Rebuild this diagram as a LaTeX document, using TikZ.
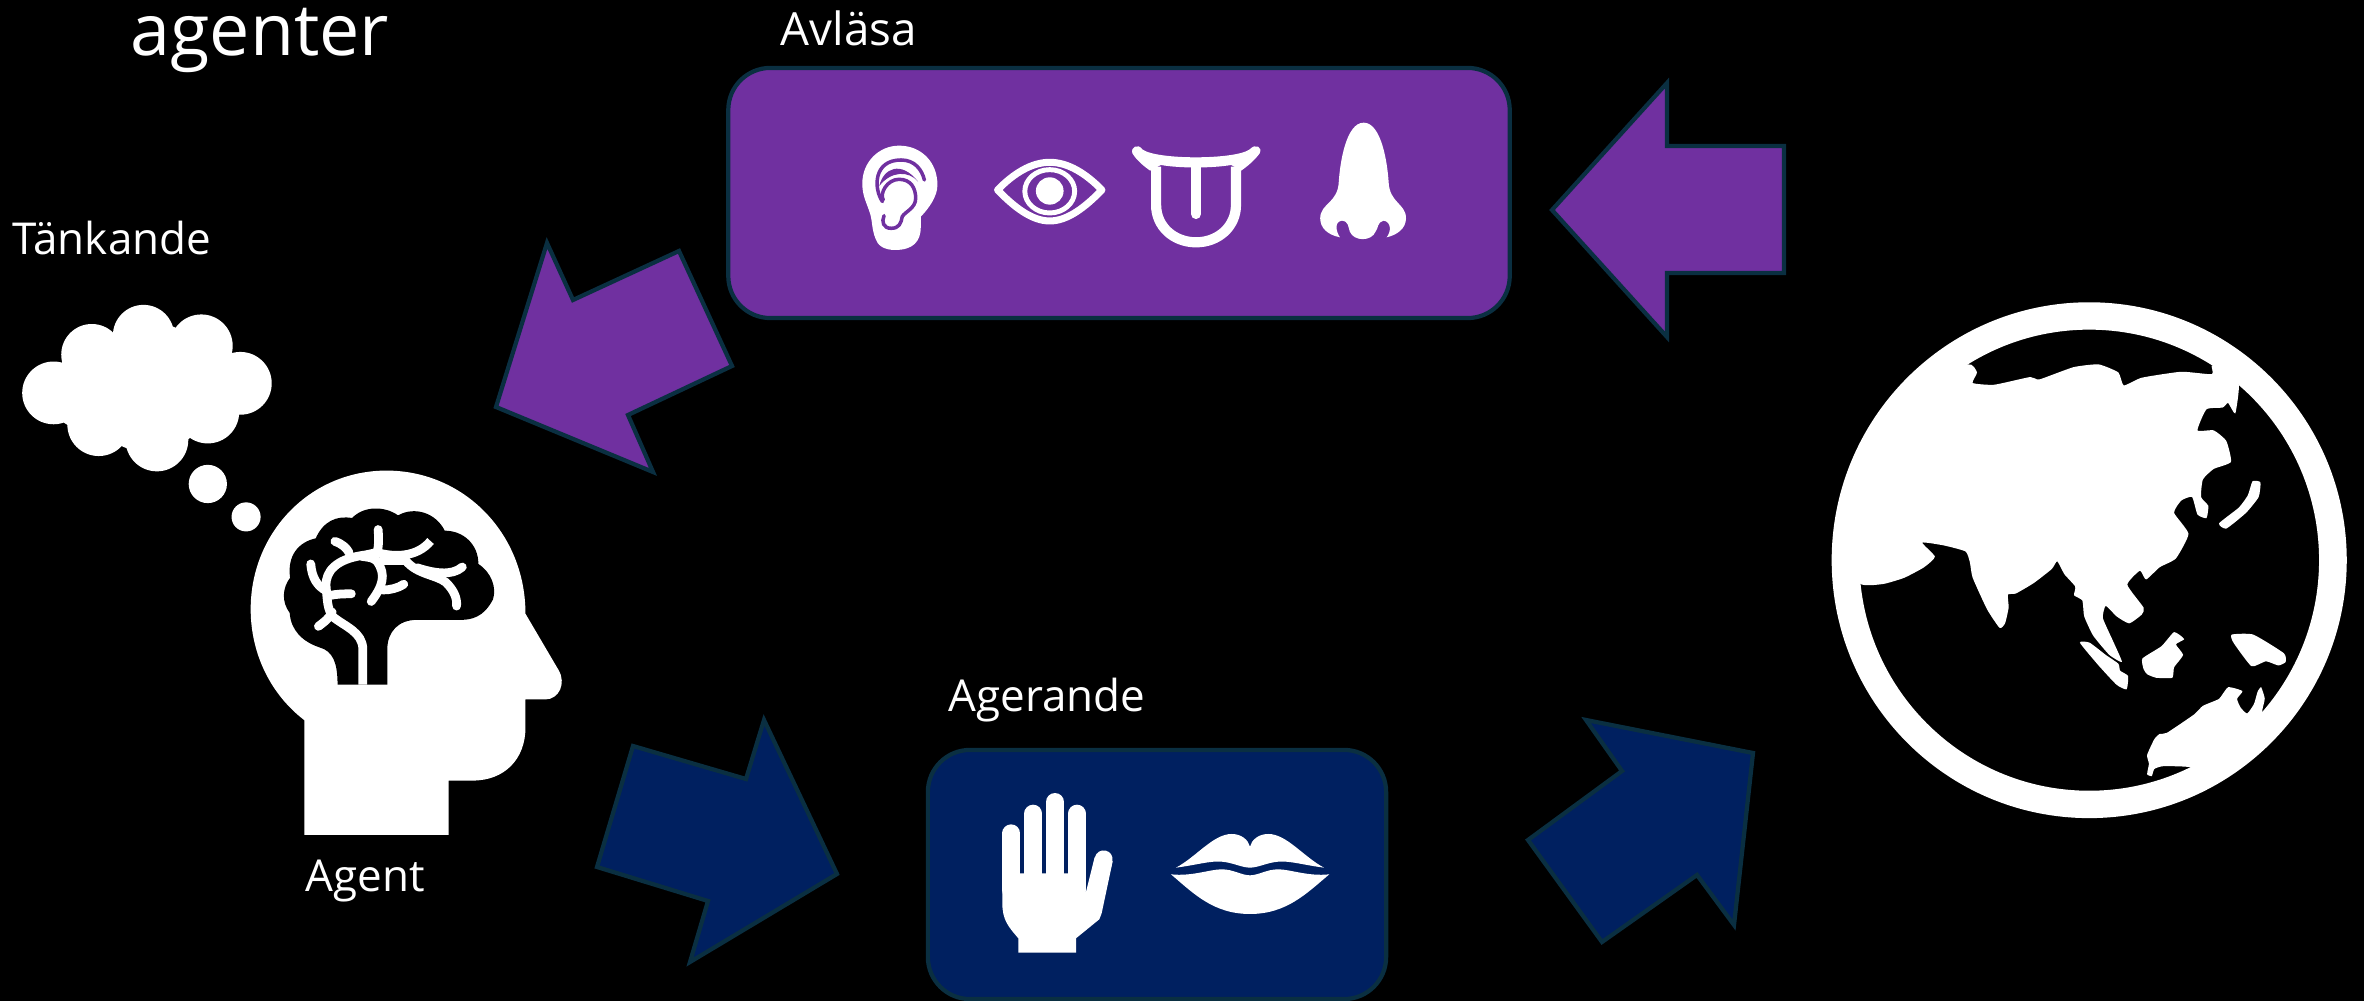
\documentclass[tikz,border=0pt]{standalone}
\usepackage{fontspec}
\setmainfont{Open Sans}
\usepackage{tikz}
\usetikzlibrary{positioning}
\definecolor{avlasa}{HTML}{7030A0}
\definecolor{agera}{HTML}{002060}
\definecolor{kant}{HTML}{0A2F41}
\tikzset{
  box_a/.style = {rectangle, rounded corners=0.42cm, draw=kant, fill=avlasa,
    line width=1.2pt, minimum width=7.81cm, minimum height=2.5cm},% avlasa
  box_g/.style = {rectangle, rounded corners=0.42cm, draw=kant, fill=agera,
    line width=1.2pt, minimum width=4.58cm, minimum height=2.49cm},% agerande
  pil_a/.style = {draw=kant, fill=avlasa, line width=1.2pt},
  pil_g/.style = {draw=kant, fill=agera, line width=1.2pt},
  lbl/.style = {anchor=base west, inner sep=0pt, text=white,
    font=\fontsize{12.5}{15}\selectfont},
  vit/.style = {fill=white},
  ven/.style = {draw=white, line width=2.5pt, line cap=round, line join=round},
}
\begin{document}
\begin{tikzpicture}[x=0.01cm,y=-0.01cm]
    \useasboundingbox (0,0) rectangle (2364,1001);
    \fill[black] (0,0) rectangle (2364,1001);
    % boxes
    \node [box_a] (avl) at (1119,193) {};
    \node [box_g] (age) at (1157,874.5) {};
    % labels
    \node [lbl, font=\fontsize{20.4}{25}\selectfont] (titel) at (130,56) {agenter};
    \node [lbl] (tlbl) at (12,255) {Tänkande};
    \node [lbl, font=\fontsize{13}{15}\selectfont] (albl) at (780,46) {Avläsa};
    \node [lbl] (glbl) at (948,712) {Agerande};
    \node [lbl] (plbl) at (305,892) {Agent};
    % arrows
    \draw [pil_a] (1552,210) -- (1667,83) -- (1667,146) -- (1784,146) -- (1784,273)
        -- (1667,273) -- (1667,337) -- cycle;
    \draw [pil_a] (496,407) -- (547,243) -- (573,300) -- (679,251) -- (732,366)
        -- (628,415) -- (653,472) -- cycle;
    \draw [pil_g] (837,874) -- (690,962) -- (708,901) -- (597,867) -- (633,746)
        -- (746,779) -- (764,720) -- cycle;
    \draw [pil_g] (1753,753) -- (1734,925) -- (1697,875) -- (1602,942) -- (1528,840)
        -- (1622,771) -- (1586,720) -- cycle;
    % cloud and head
    \begin{scope}[shift={(0,280)},scale=0.3827]
        \fill [vit] (140,295) circle (82) (240,195) circle (80) (375,145) circle (80)
            (526,172) circle (82) (628,270) circle (82) (543,345) circle (82)
            (410,418) circle (82) (258,378) circle (82) (390,280) circle (170)
            (220,300) circle (90);
        \fill [vit] (543,533) circle (50) (643,619) circle (38);
        \fill [vit] (795,1450) -- (1172,1450) -- (1172,1308) -- (1235,1308)
            .. controls (1320,1308) and (1373,1250) .. (1373,1170) -- (1373,1096) -- (1425,1096)
            .. controls (1460,1096) and (1480,1055) .. (1460,1020) -- (1373,872)
            .. controls (1373,660) and (1210,498) .. (1010,498)
            .. controls (810,498) and (655,660) .. (655,860)
            .. controls (655,980) and (710,1085) .. (795,1150) -- cycle;
        \fill [black] (882,1057) .. controls (882,1000) and (870,970) .. (835,960)
            .. controls (790,945) and (760,915) .. (757,870)
            .. controls (735,840) and (738,805) .. (758,778)
            .. controls (750,720) and (780,685) .. (825,675)
            .. controls (845,630) and (880,615) .. (920,622)
            .. controls (950,590) and (1005,590) .. (1040,615)
            .. controls (1085,590) and (1140,610) .. (1162,655)
            .. controls (1210,655) and (1250,690) .. (1250,742)
            .. controls (1285,765) and (1298,805) .. (1288,835)
            .. controls (1272,865) and (1250,888) .. (1205,888) -- (1090,888)
            .. controls (1040,888) and (1012,920) .. (1012,965) -- (1012,1057) -- cycle;
        \draw [ven, line cap=butt] (948,1057) -- (948,965)
            .. controls (948,920) and (900,905) .. (870,880)
            .. controls (855,860) and (855,835) .. (852,800)
            .. controls (850,760) and (880,730) .. (945,720)
            .. controls (960,718) and (970,715) .. (985,712)
            .. controls (1030,725) and (1090,725) .. (1125,682);
        \draw [ven] (985,712) .. controls (990,695) and (990,680) .. (988,652);
        \draw [ven] (875,683) .. controls (895,690) and (905,700) .. (912,712);
        \draw [ven] (812,742) .. controls (815,780) and (830,800) .. (852,812);
        \draw [ven] (860,825) .. controls (880,820) and (900,820) .. (918,820);
        \draw [ven] (832,905) .. controls (845,895) and (860,885) .. (868,868);
        \draw [ven] (945,722) .. controls (965,725) and (975,725) .. (985,735)
            .. controls (1010,770) and (1000,800) .. (970,840);
        \draw [ven] (1000,810) .. controls (1020,810) and (1040,805) .. (1055,795);
        \draw [ven] (1000,733) -- (1060,733)
            .. controls (1090,770) and (1140,770) .. (1165,790)
            .. controls (1185,810) and (1195,830) .. (1193,852);
        \draw [ven] (1090,752) .. controls (1130,765) and (1180,775) .. (1208,750);
    \end{scope}
    % ear, eye, tongue, nose
    \begin{scope}[shift={(820,100)},xscale=0.3954,yscale=0.3333]
        \fill [vit] (125,335) .. controls (115,300) and (107,285) .. (107,250)
            .. controls (107,185) and (150,137) .. (200,137)
            .. controls (255,137) and (297,185) .. (297,255)
            .. controls (297,290) and (275,325) .. (255,350) -- (255,380)
            .. controls (255,425) and (235,450) .. (190,450)
            .. controls (160,450) and (145,435) .. (140,415)
            .. controls (130,385) and (133,360) .. (125,335) -- cycle;
        \draw [draw=avlasa, line width=1pt, line cap=round]
            (158,305) .. controls (135,265) and (135,180) .. (205,180)
            .. controls (240,180) and (258,210) .. (264,240);
        \fill [avlasa] (150,258) .. controls (160,205) and (205,180) .. (248,245)
            .. controls (225,212) and (180,212) .. (150,258);
        \draw [draw=avlasa, line width=1pt, line cap=round]
            (160,300) .. controls (150,280) and (170,238) .. (200,238)
            .. controls (230,238) and (242,265) .. (242,295)
            .. controls (242,325) and (215,335) .. (208,350)
            .. controls (205,370) and (200,385) .. (180,385)
            .. controls (160,385) and (155,365) .. (162,347);
        \draw [draw=white, line width=2pt, line join=round]
            (449,270) .. controls (490,220) and (535,187) .. (581,187)
            .. controls (627,187) and (672,220) .. (713,270)
            .. controls (672,320) and (627,363) .. (581,363)
            .. controls (535,363) and (490,320) .. (449,270) -- cycle;
        \draw [draw=white, line width=1.4pt] (581,274) ellipse (63 and 65);
        \fill [vit] (581,273) ellipse (35 and 41);
        \fill [vit] (790,160) .. controls (785,140) and (805,130) .. (815,148)
            .. controls (850,180) and (1050,180) .. (1087,148)
            .. controls (1100,130) and (1120,140) .. (1112,160)
            .. controls (1100,180) and (1080,200) .. (1065,212)
            -- (1040,195) .. controls (990,205) and (910,205) .. (862,195) -- (835,212)
            .. controls (820,200) and (800,180) .. (790,160) -- cycle;
        \draw [draw=white, line width=2.9pt] (850,200) -- (850,315)
            .. controls (850,380) and (895,427) .. (951,427)
            .. controls (1007,427) and (1052,380) .. (1052,315) -- (1052,200);
        \draw [draw=white, line width=2.9pt, line cap=round] (951,195) -- (951,342);
        \fill [vit] (1375,68) .. controls (1420,68) and (1435,190) .. (1438,245)
            .. controls (1440,310) and (1482,310) .. (1482,355)
            .. controls (1482,385) and (1460,405) .. (1433,412)
            .. controls (1445,395) and (1445,365) .. (1425,362)
            .. controls (1410,365) and (1412,385) .. (1405,395)
            .. controls (1395,425) and (1350,425) .. (1340,395)
            .. controls (1335,380) and (1338,365) .. (1320,362)
            .. controls (1300,365) and (1305,395) .. (1315,412)
            .. controls (1285,405) and (1265,385) .. (1265,355)
            .. controls (1265,310) and (1310,310) .. (1312,245)
            .. controls (1315,190) and (1330,68) .. (1375,68) -- cycle;
    \end{scope}
    % hand and lips
    \begin{scope}[shift={(920,740)},scale=0.3333]
        \foreach \fx/\fy in {274/280, 340/221, 405/186, 471/221}
            \draw [draw=white, line width=5.1pt, line cap=round] (\fx,\fy) -- (\fx,450);
        \draw [draw=white, line width=5.1pt, line cap=round] (551,358) -- (545,385);
        \fill [vit] (247,400) -- (497,400) -- (497,460) -- (524,352) -- (578,364) -- (545,520)
            -- (538,538) -- (468,595) -- (468,638) -- (295,638) -- (295,595)
            .. controls (265,560) and (247,540) .. (247,490) -- cycle;
        \fill [vit] (768,383) .. controls (830,350) and (880,282) .. (935,282)
            .. controls (965,282) and (985,300) .. (990,320)
            .. controls (995,300) and (1015,282) .. (1045,282)
            .. controls (1100,282) and (1150,350) .. (1212,383)
            .. controls (1150,375) and (1110,362) .. (1075,365)
            .. controls (1040,368) and (1015,383) .. (990,383)
            .. controls (965,383) and (940,368) .. (905,365)
            .. controls (870,362) and (830,375) .. (768,383) -- cycle;
        \fill [vit] (753,403) .. controls (815,410) and (870,388) .. (905,388)
            .. controls (940,388) and (965,406) .. (990,406)
            .. controls (1015,406) and (1040,388) .. (1075,388)
            .. controls (1110,388) and (1165,410) .. (1228,403)
            .. controls (1160,460) and (1100,522) .. (990,522)
            .. controls (880,522) and (820,460) .. (753,403) -- cycle;
    \end{scope}
    % globe
    \begin{scope}[shift={(1800,290)},xscale=0.3597,yscale=0.3509]
        \fill [vit, even odd rule] (804,770) ellipse (716 and 735) (804,770) ellipse (639 and 657);
        \fill [vit] plot [smooth cycle, tension=0.3] coordinates {
            (165,835) (230,838) (290,820) (345,790) (375,760) (340,720) (400,728) (460,745)
            (472,775) (480,820) (520,910) (555,963) (570,950) (580,905) (578,868) (600,865)
            (650,835) (700,795) (715,773) (735,810) (765,845) (762,870) (785,885) (790,930)
            (815,985) (860,1040) (895,1060) (870,1000) (842,935) (850,900) (880,930) (915,950)
            (950,925) (955,905) (910,840) (945,800) (962,825) (1000,790) (1045,765) (1080,695)
            (1040,635) (1060,600) (1090,590) (1105,640) (1130,650) (1135,615) (1115,590)
            (1120,540) (1150,510) (1198,490) (1185,430) (1150,400) (1105,400) (1130,340)
            (1175,335) (1190,322) (1210,352) (1220,272) (1190,230) (1145,215) (1145,240) (1060,233)
            (950,250) (900,272) (885,235) (830,212) (760,220) (665,255) (640,248) (540,270)
            (480,265) (492,235) (465,212) (300,300) (190,500) (150,700)};
        \fill [vit] plot [smooth cycle, tension=0.3] coordinates {
            (1258,545) (1280,548) (1275,590) (1240,635) (1185,680) (1165,665) (1220,620) (1245,585)};
        \fill [vit] plot [smooth cycle, tension=0.3] coordinates {
            (778,1005) (805,1005) (850,1040) (885,1065) (890,1085) (912,1100) (908,1138) (880,1125) (830,1070)};
        \fill [vit] plot [smooth cycle, tension=0.3] coordinates {
            (952,1050) (1005,1015) (1040,975) (1068,995) (1045,1010) (1065,1040) (1040,1075)
            (1035,1105) (990,1105) (965,1095) (955,1080)};
        \fill [vit] plot [smooth cycle, tension=0.3] coordinates {
            (1200,982) (1260,982) (1345,1035) (1350,1060) (1330,1070) (1295,1058) (1255,1072) (1205,1005)};
        \fill [vit] plot [smooth cycle, tension=0.3] coordinates {
            (965,1325) (985,1280) (1000,1265) (1020,1262) (1095,1210) (1120,1185) (1165,1165)
            (1190,1132) (1230,1143) (1215,1165) (1225,1190) (1243,1207) (1262,1180) (1272,1145)
            (1282,1132) (1292,1165) (1285,1205) (1320,1230) (1230,1320) (1120,1390) (1085,1360)
            (1010,1357) (985,1365) (978,1385) (965,1380) (970,1350)};
    \end{scope}
\end{tikzpicture}
\end{document}
